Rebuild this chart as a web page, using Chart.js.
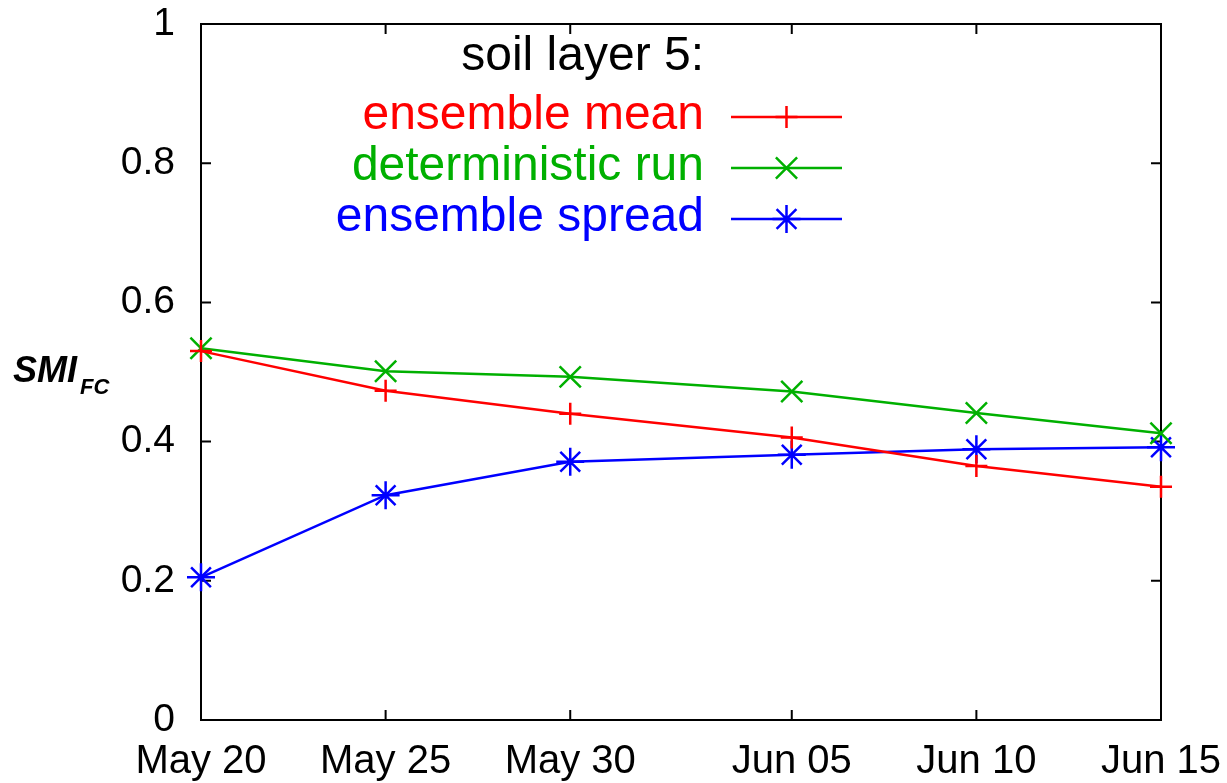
<!DOCTYPE html>
<html>
<head>
<meta charset="utf-8">
<script src="https://cdn.jsdelivr.net/npm/chart.js@4/dist/chart.umd.min.js"></script>
<style>
    body { margin: 0; background: #fff; }
    #wrap { width: 1227px; height: 783px; }
</style>
</head>
<body>
<div id="wrap"><canvas id="smiChart" width="1227" height="783"></canvas></div>
<script>
// days after May 20
const tickDays = [0, 5, 10, 16, 21, 26];
const tickLabels = ["May 20", "May 25", "May 30", "Jun 05", "Jun 10", "Jun 15"];
const yTickValues = [0, 0.2, 0.4, 0.6, 0.8, 1];
const yTickLabels = ["0", "0.2", "0.4", "0.6", "0.8", "1"];

const days = [0, 5, 10, 16, 21, 26];
const ensembleMean = [0.530, 0.473, 0.440, 0.406, 0.365, 0.335];
const deterministicRun = [0.534, 0.501, 0.493, 0.472, 0.441, 0.412];
const ensembleSpread = [0.205, 0.323, 0.371, 0.381, 0.389, 0.392];

const FONT = "'Liberation Sans', Arial, Helvetica, sans-serif";
const RED = "#ff0000";
const GREEN = "#00b000";
const BLUE = "#0000ff";

function toPoints(vals) {
    return days.map((d, i) => ({ x: d, y: vals[i] }));
}

// same geometry as Chart.js point styles, used for the key
function drawMarker(ctx, style, x, y, r) {
    ctx.beginPath();
    if (style === "cross" || style === "star") {
        ctx.moveTo(x - r, y); ctx.lineTo(x + r, y);
        ctx.moveTo(x, y - r); ctx.lineTo(x, y + r);
    }
    if (style === "crossRot" || style === "star") {
        const d = r * Math.SQRT1_2;
        ctx.moveTo(x - d, y - d); ctx.lineTo(x + d, y + d);
        ctx.moveTo(x - d, y + d); ctx.lineTo(x + d, y - d);
    }
    ctx.stroke();
}

/* =========================
   frame + inward ticks
   ========================= */
const framePlugin = {
    id: "frame",
    beforeDatasetsDraw(chart) {
        const { ctx, chartArea: a, scales } = chart;
        ctx.save();
        ctx.strokeStyle = "#000";
        ctx.lineWidth = 2;
        ctx.strokeRect(a.left, a.top, a.right - a.left, a.bottom - a.top);
        const len = 10;
        ctx.beginPath();
        tickDays.forEach(d => {
            const px = scales.x.getPixelForValue(d);
            ctx.moveTo(px, a.bottom); ctx.lineTo(px, a.bottom - len);
            ctx.moveTo(px, a.top); ctx.lineTo(px, a.top + len);
        });
        yTickValues.forEach(v => {
            const py = scales.y.getPixelForValue(v);
            ctx.moveTo(a.left, py); ctx.lineTo(a.left + len, py);
            ctx.moveTo(a.right, py); ctx.lineTo(a.right - len, py);
        });
        ctx.stroke();
        ctx.restore();
    }
};

/* =========================
   key + y label
   ========================= */
const keyPlugin = {
    id: "key",
    afterDraw(chart) {
        const ctx = chart.ctx;
        ctx.save();

        // y axis label SMI_FC
        ctx.fillStyle = "#000";
        ctx.textBaseline = "alphabetic";
        ctx.textAlign = "left";
        ctx.font = "italic bold 36px " + FONT;
        ctx.fillText("SMI", 13, 382);
        const w = ctx.measureText("SMI").width;
        ctx.font = "italic bold 22px " + FONT;
        ctx.fillText("FC", 13 + w + 3, 394);

        // key
        const textRight = 704;
        ctx.textAlign = "right";
        ctx.font = "48px " + FONT;
        ctx.fillStyle = "#000";
        ctx.fillText("soil layer 5:", textRight, 70);

        const rows = [129, 180, 231];
        chart.data.datasets.forEach((ds, i) => {
            const base = rows[i];
            ctx.fillStyle = ds.borderColor;
            ctx.fillText(ds.label, textRight, base);
            const ly = base - 12;
            ctx.strokeStyle = ds.borderColor;
            ctx.lineWidth = ds.borderWidth;
            ctx.beginPath();
            ctx.moveTo(731, ly); ctx.lineTo(842, ly);
            ctx.stroke();
            drawMarker(ctx, ds.pointStyle, 786.5, ly, ds.pointRadius);
        });
        ctx.restore();
    }
};

function makeSet(label, vals, color, style, radius) {
    return {
        label: label,
        data: toPoints(vals),
        borderColor: color,
        backgroundColor: color,
        borderWidth: 2.5,
        pointStyle: style,
        pointRadius: radius,
        pointBorderWidth: 2.5,
        pointBorderColor: color,
        tension: 0,
        clip: false
    };
}

new Chart(document.getElementById("smiChart"), {
    type: "line",
    data: {
        datasets: [
            makeSet("ensemble mean", ensembleMean, RED, "cross", 11),
            makeSet("deterministic run", deterministicRun, GREEN, "crossRot", 15),
            makeSet("ensemble spread", ensembleSpread, BLUE, "star", 14)
        ]
    },
    options: {
        responsive: false,
        animation: false,
        layout: { padding: { top: 24, right: 66, left: 0, bottom: 0 } },
        plugins: {
            legend: { display: false },
            tooltip: { enabled: false }
        },
        scales: {
            x: {
                type: "linear",
                min: 0,
                max: 26,
                afterBuildTicks: scale => { scale.ticks = tickDays.map(v => ({ value: v })); },
                afterFit: scale => {
                    scale.height = 63;
                    scale.paddingLeft = 0;
                    scale.paddingRight = 0;
                },
                grid: { display: false, drawTicks: false },
                border: { display: false },
                ticks: {
                    autoSkip: false,
                    maxRotation: 0,
                    padding: 18,
                    color: "#000",
                    font: { family: FONT, size: 40 },
                    callback: v => tickLabels[tickDays.indexOf(v)]
                }
            },
            y: {
                min: 0,
                max: 1,
                afterBuildTicks: scale => { scale.ticks = yTickValues.map(v => ({ value: v })); },
                afterFit: scale => {
                    scale.width = 201;
                    scale.paddingTop = 0;
                    scale.paddingBottom = 0;
                },
                grid: { display: false, drawTicks: false },
                border: { display: false },
                ticks: {
                    padding: 26,
                    color: "#000",
                    font: { family: FONT, size: 39 },
                    callback: v => yTickLabels[yTickValues.indexOf(v)]
                }
            }
        }
    },
    plugins: [framePlugin, keyPlugin]
});
</script>
</body>
</html>
